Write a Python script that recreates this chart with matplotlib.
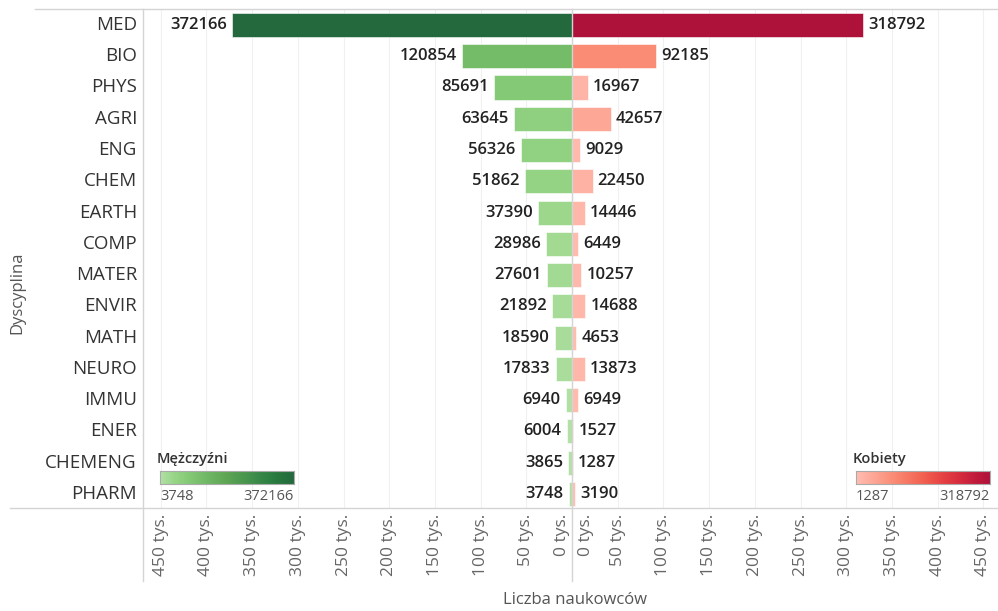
import numpy as np
import matplotlib
matplotlib.use("Agg")
import matplotlib.pyplot as plt
from matplotlib.colors import LinearSegmentedColormap
from matplotlib.lines import Line2D
from matplotlib import transforms

plt.rcParams["font.family"] = ["Open Sans", "DejaVu Sans"]

categories = ["MED", "BIO", "PHYS", "AGRI", "ENG", "CHEM", "EARTH", "COMP",
              "MATER", "ENVIR", "MATH", "NEURO", "IMMU", "ENER", "CHEMENG", "PHARM"]
men = [372166, 120854, 85691, 63645, 56326, 51862, 37390, 28986,
       27601, 21892, 18590, 17833, 6940, 6004, 3865, 3748]
women = [318792, 92185, 16967, 42657, 9029, 22450, 14446, 6449,
         10257, 14688, 4653, 13873, 6949, 1527, 1287, 3190]
ticks = [0, 50000, 100000, 150000, 200000, 250000, 300000, 350000, 400000, 450000]
tick_labels = [f"{t // 1000} tys." for t in ticks]

greens = ["#b3e0a6", "#a5db96", "#98d687", "#8ed07f", "#85ca77", "#7dc370", "#75bc69",
          "#6eb663", "#67af5c", "#61a956", "#59a253", "#519c51", "#49964f", "#428f4d",
          "#398949", "#308344", "#2b7c40", "#27763d", "#256f3d", "#24693d"]
reds = ["#ffbeb2", "#feb4a6", "#fdab9b", "#fca290", "#fb9984", "#fa8f79", "#f9856e",
        "#f77b66", "#f5715d", "#f36754", "#f05c4d", "#ec5049", "#e74545", "#e13b42",
        "#da323f", "#d3293d", "#ca223c", "#c11a3b", "#b8163a", "#ae123a"]
cmap_m = LinearSegmentedColormap.from_list("m", greens)
cmap_w = LinearSegmentedColormap.from_list("w", reds)

W, H = 998, 611
fig = plt.figure(figsize=(W / 100, H / 100), dpi=100)


def fx(px):
    return px / W


def fy(py):
    return 1 - py / H


top, bottom, mid = 9, 508, 572
ax_m = fig.add_axes([fx(143), fy(bottom), fx(mid - 143), (bottom - top) / H])
ax_w = fig.add_axes([fx(mid), fy(bottom), fx(W - mid), (bottom - top) / H])

y = np.arange(len(categories))
norm = lambda v, arr: (v - min(arr)) / (max(arr) - min(arr))
col_m = [cmap_m(norm(v, men)) for v in men]
col_w = [cmap_w(norm(v, women)) for v in women]

ax_m.barh(y, men, height=0.77, color=col_m, edgecolor="white", linewidth=0.4, zorder=2)
ax_w.barh(y, women, height=0.77, color=col_w, edgecolor="white", linewidth=0.4, zorder=2)

ax_m.set_xlim(469400, 0)
ax_w.set_xlim(0, 466000)
for ax in (ax_m, ax_w):
    ax.set_ylim(len(categories) - 0.55, -0.51)
    for s in ax.spines.values():
        s.set_visible(False)
    ax.set_xticks(ticks)
    ax.set_xticklabels([])
    ax.set_yticks([])
    ax.tick_params(length=0)
    ax.grid(axis="x", color="#f0f0f0", linewidth=0.8, zorder=0)
    ax.set_axisbelow(True)

for i, v in enumerate(men):
    ax_m.text(v, i, f"{v}", ha="right", va="center", fontsize=12,
              fontweight="semibold", color="#222222",
              transform=transforms.offset_copy(ax_m.transData, fig, x=-5, y=0, units="dots"))
for i, v in enumerate(women):
    ax_w.text(v, i, f"{v}", ha="left", va="center", fontsize=12,
              fontweight="semibold", color="#222222",
              transform=transforms.offset_copy(ax_w.transData, fig, x=5, y=0, units="dots"))

# tick labels below axes
for ax, side in ((ax_m, -1), (ax_w, 1)):
    tr = transforms.blended_transform_factory(ax.transData, ax.transAxes)
    for t, lab in zip(ticks, tick_labels):
        if t == 0:
            ha = "right" if side < 0 else "left"
            off = -2 if side < 0 else 6
        else:
            ha, off = "center", 0
        ax.text(t, 0, lab, rotation=90, ha=ha, va="top", fontsize=12.5, color="#666666",
                transform=transforms.offset_copy(tr, fig, x=off, y=-6, units="dots"))

# category labels
for i, c in enumerate(categories):
    tr = transforms.blended_transform_factory(fig.transFigure, ax_m.transData)
    ax_m.text(fx(137), i, c, ha="right", va="center", fontsize=13.5, color="#333333",
              transform=tr, clip_on=False)

# frame lines
line_col = "#d4d4d4"
fig.add_artist(Line2D([fx(35), 1], [fy(top), fy(top)], color=line_col, lw=1))
fig.add_artist(Line2D([fx(10), 1], [fy(bottom), fy(bottom)], color=line_col, lw=1))
fig.add_artist(Line2D([fx(143), fx(143)], [fy(top), fy(581)], color=line_col, lw=1))
fig.add_artist(Line2D([fx(mid), fx(mid)], [fy(top), fy(581)], color=line_col, lw=1))

fig.text(fx(17), fy(293), "Dyscyplina", rotation=90, ha="center", va="center",
         fontsize=12, color="#555555")
fig.text(fx(575), fy(600), "Liczba naukowców", ha="center", va="center",
         fontsize=12, color="#555555")

# colour legends
grad = np.linspace(0, 1, 256).reshape(1, -1)
for x0, title, cmap, lo, hi in ((160, "Mężczyźni", cmap_m, min(men), max(men)),
                                (856, "Kobiety", cmap_w, min(women), max(women))):
    lax = fig.add_axes([fx(x0), fy(484), fx(134), 13 / H], zorder=3)
    lax.imshow(grad, aspect="auto", cmap=cmap)
    lax.set_xticks([])
    lax.set_yticks([])
    for s in lax.spines.values():
        s.set_color("#aaaaaa")
        s.set_linewidth(0.8)
    fig.text(fx(x0 - 3), fy(459), title, ha="left", va="center", fontsize=10.5,
             fontweight="semibold", color="#333333", zorder=3)
    fig.text(fx(x0), fy(496), f"{lo}", ha="left", va="center", fontsize=10.5,
             color="#555555", zorder=3)
    fig.text(fx(x0 + 134), fy(496), f"{hi}", ha="right", va="center", fontsize=10.5,
             color="#555555", zorder=3)

fig.savefig("out.png", dpi=100)
